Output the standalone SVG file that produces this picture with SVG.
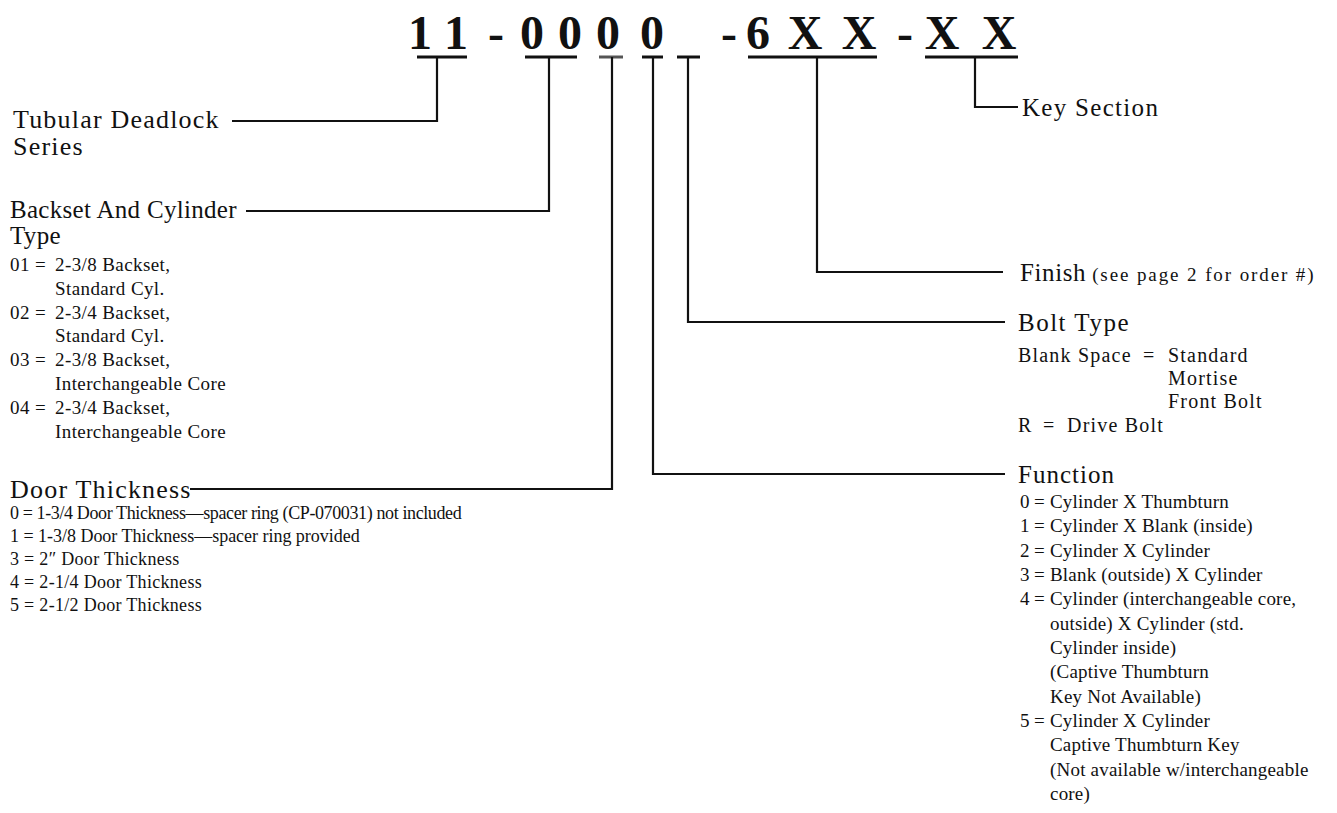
<svg xmlns="http://www.w3.org/2000/svg" width="1337" height="813" viewBox="0 0 1337 813">
<style>
  text{font-family:"Liberation Serif","Times New Roman",serif;fill:#111}
  .code{font-size:48px;font-weight:bold;text-anchor:middle}
  .h{font-size:25px;letter-spacing:0.6px}
  .s{font-size:18px;letter-spacing:0.3px}
  .b{font-size:19px;letter-spacing:0.4px}
  .f{font-size:19px;letter-spacing:0.2px}
  .bt{font-size:20px;letter-spacing:1.2px}
  .ul{stroke:#111;stroke-width:3;fill:none}
  .c{stroke:#111;stroke-width:2.2;fill:none}
</style>
<rect width="1337" height="813" fill="#fff"/>
<g id="code">
  <text class="code" x="420 456 496 532 570 608 652 729 758 805 859 905 942 999" y="49">11-0000-6XX-XX</text>
  <line class="ul" x1="417" y1="57" x2="467" y2="57"/>
  <line class="ul" x1="525" y1="57" x2="577" y2="57"/>
  <line class="ul" x1="599" y1="57" x2="623" y2="57" style="stroke:#555"/>
  <line class="ul" x1="642" y1="57" x2="663" y2="57"/>
  <line class="ul" x1="677" y1="57" x2="700" y2="57"/>
  <line class="ul" x1="748" y1="57" x2="877" y2="57"/>
  <line class="ul" x1="925" y1="57" x2="1018" y2="57"/>
</g>
<g id="connectors">
  <path class="c" d="M437 57 V121 H232"/>
  <path class="c" d="M549 57 V211 H246"/>
  <path class="c" d="M612 57 V489 H190"/>
  <path class="c" d="M653 57 V474 H1005"/>
  <path class="c" d="M688 57 V322 H1005"/>
  <path class="c" d="M817 57 V272 H1003"/>
  <path class="c" d="M975 57 V107 H1018"/>
</g>
<g id="series">
  <text class="h" x="13" y="128" style="font-size:26px;letter-spacing:1.2px">Tubular Deadlock</text>
  <text class="h" x="13" y="155" style="font-size:26px;letter-spacing:1.2px">Series</text>
</g>
<g id="backset">
  <text class="h" x="10" y="218" style="letter-spacing:0.3px">Backset And Cylinder</text>
  <text class="h" x="10" y="244" style="letter-spacing:0.3px">Type</text>
  <text class="b" x="10" y="271">01</text><text class="b" x="35" y="271">=</text><text class="b" x="55" y="271">2-3/8 Backset,</text>
  <text class="b" x="55" y="295">Standard Cyl.</text>
  <text class="b" x="10" y="319">02</text><text class="b" x="35" y="319">=</text><text class="b" x="55" y="319">2-3/4 Backset,</text>
  <text class="b" x="55" y="342">Standard Cyl.</text>
  <text class="b" x="10" y="366">03</text><text class="b" x="35" y="366">=</text><text class="b" x="55" y="366">2-3/8 Backset,</text>
  <text class="b" x="55" y="390">Interchangeable Core</text>
  <text class="b" x="10" y="414">04</text><text class="b" x="35" y="414">=</text><text class="b" x="55" y="414">2-3/4 Backset,</text>
  <text class="b" x="55" y="438">Interchangeable Core</text>
</g>
<g id="door">
  <text class="h" x="10" y="498" style="font-size:26px;letter-spacing:1.2px">Door Thickness</text>
  <text class="s" x="10" y="519" textLength="452" lengthAdjust="spacing">0 = 1-3/4 Door Thickness—spacer ring (CP-070031) not included</text>
  <text class="s" x="10" y="542" textLength="350" lengthAdjust="spacing">1 = 1-3/8 Door Thickness—spacer ring provided</text>
  <text class="s" x="10" y="565">3 = 2″ Door Thickness</text>
  <text class="s" x="10" y="588">4 = 2-1/4 Door Thickness</text>
  <text class="s" x="10" y="611">5 = 2-1/2 Door Thickness</text>
</g>
<g id="key">
  <text class="h" x="1022" y="116" style="letter-spacing:1.3px">Key Section</text>
</g>
<g id="finish">
  <text x="1020" y="281"><tspan class="h">Finish</tspan><tspan dx="6" style="font-size:19px;letter-spacing:1.9px">(see page 2 for order #)</tspan></text>
</g>
<g id="bolt">
  <text class="h" x="1018" y="331" style="letter-spacing:1.5px">Bolt Type</text>
  <text class="bt" x="1018" y="362">Blank Space</text><text class="bt" x="1143" y="362">=</text><text class="bt" x="1168" y="362">Standard</text>
  <text class="bt" x="1168" y="385">Mortise</text>
  <text class="bt" x="1168" y="408">Front Bolt</text>
  <text class="bt" x="1018" y="432">R</text><text class="bt" x="1043" y="432">=</text><text class="bt" x="1067" y="432">Drive Bolt</text>
</g>
<g id="function">
  <text class="h" x="1018" y="483" style="letter-spacing:1px">Function</text>
  <text class="f" x="1020" y="508">0</text><text class="f" x="1034" y="508">=</text><text class="f" x="1050" y="508">Cylinder X Thumbturn</text>
  <text class="f" x="1020" y="532">1</text><text class="f" x="1034" y="532">=</text><text class="f" x="1050" y="532">Cylinder X Blank (inside)</text>
  <text class="f" x="1020" y="557">2</text><text class="f" x="1034" y="557">=</text><text class="f" x="1050" y="557">Cylinder X Cylinder</text>
  <text class="f" x="1020" y="581">3</text><text class="f" x="1034" y="581">=</text><text class="f" x="1050" y="581">Blank (outside) X Cylinder</text>
  <text class="f" x="1020" y="605">4</text><text class="f" x="1034" y="605">=</text><text class="f" x="1050" y="605">Cylinder (interchangeable core,</text>
  <text class="f" x="1050" y="630">outside) X Cylinder (std.</text>
  <text class="f" x="1050" y="654">Cylinder inside)</text>
  <text class="f" x="1050" y="678">(Captive Thumbturn</text>
  <text class="f" x="1050" y="703">Key Not Available)</text>
  <text class="f" x="1020" y="727">5</text><text class="f" x="1034" y="727">=</text><text class="f" x="1050" y="727">Cylinder X Cylinder</text>
  <text class="f" x="1050" y="751">Captive Thumbturn Key</text>
  <text class="f" x="1050" y="776">(Not available w/interchangeable</text>
  <text class="f" x="1050" y="800">core)</text>
</g>
</svg>
